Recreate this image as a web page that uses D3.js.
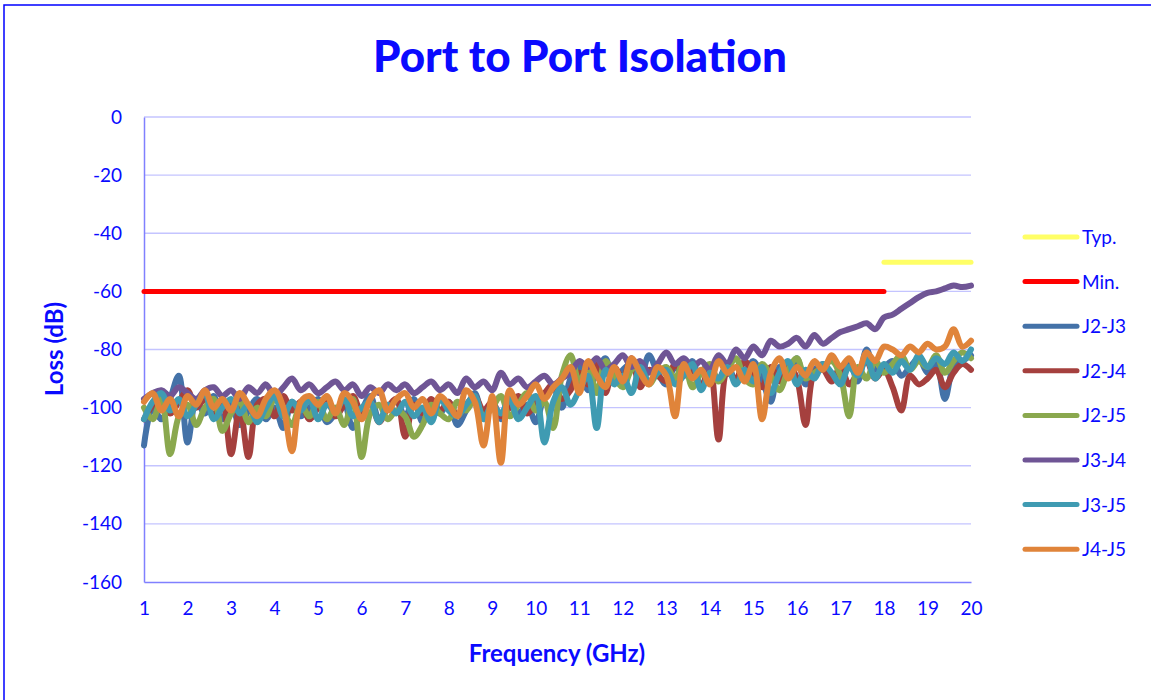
<!DOCTYPE html>
<html>
<head>
<meta charset="utf-8">
<script src="https://cdnjs.cloudflare.com/ajax/libs/d3/7.8.5/d3.min.js"></script>
<style>
  body { margin: 0; background: #fff; }
  svg { font-family: Lato, "Open Sans", sans-serif; }
</style>
</head>
<body>
<svg width="1151" height="700"></svg>
<script>
// sampling grid (GHz)
var freq = d3.range(0, 96).map(function (i) { return +(1 + i * 0.2).toFixed(1); });

var xTicks = d3.range(1, 21);
var yTicks = [0, -20, -40, -60, -80, -100, -120, -140, -160];

// spec lines
var typ = [{ f: 18, v: -50 }, { f: 20, v: -50 }];
var minSpec = [{ f: 1, v: -60 }, { f: 18, v: -60 }];

// measured isolation, dB, one value per freq point
var j2j3 = [
  -113, -100, -104, -97, -89, -112, -98, -102, -96, -104,
  -99, -106, -101, -97, -104, -100, -107, -98, -103, -100,
  -97, -105, -102, -99, -107, -101, -96, -104, -100, -98,
  -103, -97, -105, -100, -102, -98, -106, -101, -95, -103,
  -100, -104, -97, -102, -99, -105, -96, -93, -100, -90,
  -86, -94, -88, -83, -91, -87, -85, -90, -82, -88,
  -92, -86, -89, -84, -93, -87, -90, -85, -91, -88,
  -84, -90, -98, -86, -89, -83, -92, -87, -85, -90,
  -88, -84, -91, -80, -87, -86, -84, -89, -86, -83,
  -88, -85, -97, -86, -84, -82
];
var j2j4 = [
  -104, -99, -95, -102, -98, -94, -100, -97, -103, -98,
  -116, -100, -117, -99, -97, -103, -96, -101, -98, -104,
  -100, -97, -103, -99, -96, -102, -98, -105, -100, -97,
  -110, -99, -102, -97, -101, -98, -103, -99, -96, -101,
  -98, -103, -100, -96, -102, -98, -95, -92, -97, -94,
  -88, -92, -84, -95, -86, -90, -83, -93, -87, -89,
  -91, -85, -89, -87, -93, -86, -111, -88, -90, -84,
  -89, -93, -86, -91, -85, -90, -106, -88, -87, -91,
  -86, -92, -88, -84, -90, -87, -93, -101, -89, -92,
  -90, -87, -93, -88, -85, -87
];
var j2j5 = [
  -100, -104, -97, -116, -103, -99, -106, -100, -97, -108,
  -102, -98, -105, -100, -103, -97, -101, -106, -99, -103,
  -98, -104, -100, -106, -97, -117, -102, -99, -104, -101,
  -103, -110, -106, -99, -102, -104, -98, -101, -97, -103,
  -100, -96, -103, -99, -95, -101, -98, -107, -89, -82,
  -91, -86, -95, -84, -89, -93, -87, -85, -92, -88,
  -86, -90, -84, -93, -88, -85, -91, -87, -83, -90,
  -92, -85, -89, -94, -87, -83, -90, -88, -86, -84,
  -89, -103, -86, -90, -84, -88, -85, -82, -87, -84,
  -86, -82, -88, -84, -81, -83
];
var j3j4 = [
  -97, -95, -94, -96, -93, -95, -97, -94, -93, -96,
  -94, -97, -93, -95, -92, -96, -93, -90, -94, -92,
  -95, -93, -91, -94, -92, -96, -93, -95, -92, -94,
  -92, -95, -93, -91, -94, -92, -95, -90, -93, -91,
  -94, -88, -92, -90, -93, -91, -89, -92, -90, -88,
  -84, -86, -83, -87, -85, -82, -86, -84, -88, -85,
  -81, -85, -83, -86, -84, -87, -82, -85, -80, -83,
  -79, -82, -77, -79, -78, -76, -79, -75, -78, -76,
  -74, -73, -72, -71, -73, -69, -68, -66, -64, -62,
  -60.5, -60, -59, -58, -58.5, -58
];
var j3j5 = [
  -104, -98, -95, -101, -97, -103, -99, -95, -104, -100,
  -97, -102, -99, -105, -100, -96, -103, -98, -101, -97,
  -104, -99, -101, -97, -103, -100, -98, -105, -99, -102,
  -98, -103, -100, -105, -97, -101, -103, -99, -96, -104,
  -99, -102, -97, -104, -100, -96, -112, -98, -93, -99,
  -94, -89, -107, -87, -92, -89, -95, -86, -91, -88,
  -87, -92, -89, -85, -94, -88, -90, -86, -92, -87,
  -91, -86, -95, -88, -84, -92, -87, -90, -85, -88,
  -92, -86, -89, -83, -90, -85, -88, -84, -87, -82,
  -86, -83, -85, -81, -84, -80
];
var j4j5 = [
  -98, -95, -101, -97, -103, -96, -99, -94, -100, -97,
  -101, -95, -99, -103, -97, -94, -100, -115, -98, -96,
  -99, -96, -102, -95, -98, -104, -97, -94, -101, -97,
  -95, -100, -97, -102, -96, -99, -103, -94, -98, -113,
  -96, -119, -94, -99, -96, -92, -97, -93, -90, -86,
  -95, -84, -89, -93, -86, -91, -83, -88, -92, -86,
  -89, -103, -85, -90, -87, -92, -84, -88, -86, -91,
  -85, -104, -88, -83, -90, -86, -89, -84, -87, -82,
  -86, -83, -88, -81, -84, -79, -80, -82, -79, -81,
  -78, -80, -79, -73, -79, -77
];

var seriesNames = ["J2-J3", "J2-J4", "J2-J5", "J3-J4", "J3-J5", "J4-J5"];
var seriesData = [j2j3, j2j4, j2j5, j3j4, j3j5, j4j5];
var seriesColors = ["#4472a8", "#a5403e", "#8aa84e", "#6f5595", "#3f9bb2", "#e0843a"];

var blue = "#0a0aff";
var svg = d3.select("svg");

// outer chart border
svg.append("rect")
  .attr("x", 4).attr("y", 5)
  .attr("width", 1170).attr("height", 720)
  .attr("fill", "none")
  .attr("stroke", "#0000ff")
  .attr("stroke-width", 1.5);

var x = d3.scaleLinear().domain([1, 20]).range([144, 971]);
var y = d3.scaleLinear().domain([-160, 0]).range([582, 117]);

// gridlines
svg.append("g").selectAll("line")
  .data(yTicks.filter(function (d) { return d !== -160; }))
  .join("line")
  .attr("x1", x(1)).attr("x2", x(20))
  .attr("y1", function (d) { return y(d); })
  .attr("y2", function (d) { return y(d); })
  .attr("stroke", "#c4c4ff")
  .attr("stroke-width", 1.3);

// axes (plain hyphen for negatives, as in the original)
var yAxis = d3.axisLeft(y).tickValues(yTicks).tickSize(0).tickPadding(22)
  .tickFormat(function (d) { return String(d); });
var xAxis = d3.axisBottom(x).tickValues(xTicks).tickSize(0).tickPadding(20)
  .tickFormat(function (d) { return String(d); });

var gy = svg.append("g").attr("transform", "translate(" + x(1) + ",0)").call(yAxis);
var gx = svg.append("g").attr("transform", "translate(0," + y(-160) + ")").call(xAxis);

[gx, gy].forEach(function (g) {
  g.select(".domain").attr("stroke", "#8080ff").attr("stroke-width", 1.5);
  g.selectAll("text")
    .attr("fill", blue)
    .style("font-size", "19px")
    .style("font-family", "Lato, sans-serif");
});

// series
var line = d3.line()
  .x(function (d) { return x(d.f); })
  .y(function (d) { return y(d.v); });
var smooth = d3.line()
  .curve(d3.curveCatmullRom.alpha(0.5))
  .x(function (d) { return x(d.f); })
  .y(function (d) { return y(d.v); });

seriesData.forEach(function (vals, k) {
  var pts = vals.map(function (v, i) { return { f: freq[i], v: v }; });
  svg.append("path")
    .attr("d", smooth(pts))
    .attr("fill", "none")
    .attr("stroke", seriesColors[k])
    .attr("stroke-width", 6)
    .attr("stroke-linejoin", "round")
    .attr("stroke-linecap", "round");
});

// spec lines
svg.append("path")
  .attr("d", line(typ))
  .attr("fill", "none").attr("stroke", "#ffff66")
  .attr("stroke-width", 5).attr("stroke-linecap", "round");
svg.append("path")
  .attr("d", line(minSpec))
  .attr("fill", "none").attr("stroke", "#ff0000")
  .attr("stroke-width", 5).attr("stroke-linecap", "round");

// titles
svg.append("text")
  .attr("x", 580).attr("y", 72)
  .attr("text-anchor", "middle")
  .attr("fill", blue)
  .style("font-size", "44px").style("font-weight", "900")
  .text("Port to Port Isolation");

svg.append("text")
  .attr("x", 557).attr("y", 662)
  .attr("text-anchor", "middle")
  .attr("fill", blue)
  .style("font-size", "24px").style("font-weight", "bold")
  .text("Frequency (GHz)");

svg.append("text")
  .attr("transform", "translate(63,349) rotate(-90)")
  .attr("text-anchor", "middle")
  .attr("fill", blue)
  .style("font-size", "24px").style("font-weight", "bold")
  .text("Loss (dB)");

// legend
var legendNames = ["Typ.", "Min."].concat(seriesNames);
var legendColors = ["#ffff66", "#ff0000"].concat(seriesColors);
var lg = svg.append("g").selectAll("g")
  .data(legendNames)
  .join("g")
  .attr("transform", function (d, i) { return "translate(1025," + (237 + i * 44.6) + ")"; });
lg.append("line")
  .attr("x1", 0).attr("x2", 52)
  .attr("stroke", function (d, i) { return legendColors[i]; })
  .attr("stroke-width", 5)
  .attr("stroke-linecap", "round");
lg.append("text")
  .attr("x", 57).attr("y", 7)
  .attr("fill", blue)
  .style("font-size", "19px")
  .text(function (d) { return d; });
</script>
</body>
</html>
